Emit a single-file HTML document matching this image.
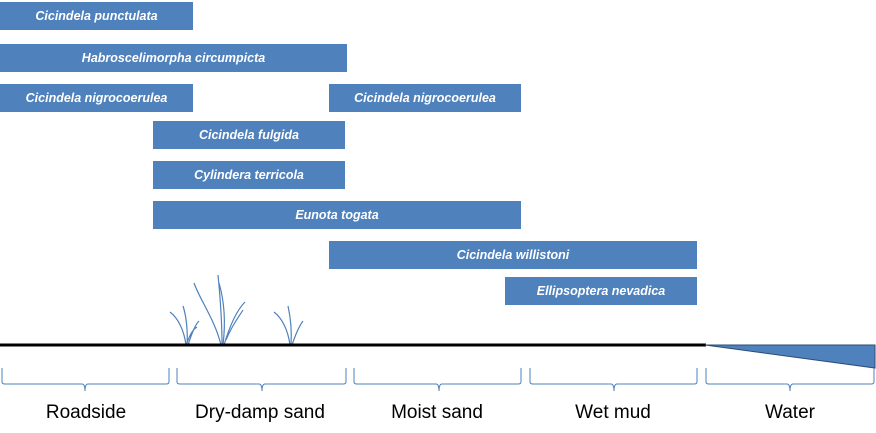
<!DOCTYPE html>
<html><head><style>
body{margin:0;width:876px;height:433px;background:#fff;position:relative;overflow:hidden;font-family:"Liberation Sans",sans-serif}
.b{position:absolute;background:#4f81bd;color:#fff;font-weight:bold;font-style:italic;font-size:12.5px;display:flex;align-items:center;justify-content:center;height:28px}
.l{position:absolute;top:402px;font-size:19px;color:#000;text-align:center;width:176px}
</style></head><body>
<div class="b" style="left:0;top:2px;width:193px">Cicindela punctulata</div>
<div class="b" style="left:0;top:44px;width:347px">Habroscelimorpha circumpicta</div>
<div class="b" style="left:0;top:84px;width:193px">Cicindela nigrocoerulea</div>
<div class="b" style="left:329px;top:84px;width:192px">Cicindela nigrocoerulea</div>
<div class="b" style="left:153px;top:121px;width:192px">Cicindela fulgida</div>
<div class="b" style="left:153px;top:161px;width:192px">Cylindera terricola</div>
<div class="b" style="left:153px;top:201px;width:368px">Eunota togata</div>
<div class="b" style="left:329px;top:241px;width:368px">Cicindela willistoni</div>
<div class="b" style="left:505px;top:277px;width:192px">Ellipsoptera nevadica</div>
<svg width="876" height="433" style="position:absolute;left:0;top:0">
<g fill="none" stroke="#4f81bd" stroke-width="1.2">
<path d="M186,345 C184,330 178,318 170,312 M187,345 C188,330 186,315 183,306 M188,345 C192,333 195,325 199,321 M186,345 C190,335 192,330 197,327"/>
<path d="M222,345 C222,320 220,295 218,275 M223,345 C226,320 224,300 219,283 M221,345 C215,320 200,300 194,283 M224,345 C230,325 237,310 245,302 M226,340 C232,325 240,315 243,310"/>
<path d="M290,345 C288,330 282,318 274,312 M291,345 C292,330 290,315 288,306 M292,345 C296,333 300,325 303,321"/>
</g>
<line x1="0" y1="345" x2="706" y2="345" stroke="#000" stroke-width="3"/>
<polygon points="705,345 875,345 875,368" fill="#4f81bd" stroke="#2c4d75" stroke-width="1"/>
<g fill="none" stroke="#4f81bd" stroke-width="1">
<path d="M2,368 L2,382 Q2,384 5,384 L82,384 Q85,384 85,391 Q85,384 88,384 L166,384 Q169,384 169,382 L169,368"/>
<path d="M177,368 L177,382 Q177,384 180,384 L259,384 Q262,384 262,391 Q262,384 265,384 L343,384 Q346,384 346,382 L346,368"/>
<path d="M354,368 L354,382 Q354,384 357,384 L436,384 Q439,384 439,391 Q439,384 442,384 L518,384 Q521,384 521,382 L521,368"/>
<path d="M530,368 L530,382 Q530,384 533,384 L611,384 Q614,384 614,391 Q614,384 617,384 L694,384 Q697,384 697,382 L697,368"/>
<path d="M706,368 L706,382 Q706,384 709,384 L787,384 Q790,384 790,391 Q790,384 793,384 L871,384 Q874,384 874,382 L874,368"/>
</g>
</svg>
<div class="l" style="left:-2px">Roadside</div>
<div class="l" style="left:172px">Dry-damp sand</div>
<div class="l" style="left:349px">Moist sand</div>
<div class="l" style="left:525px">Wet mud</div>
<div class="l" style="left:702px">Water</div>
</body></html>
